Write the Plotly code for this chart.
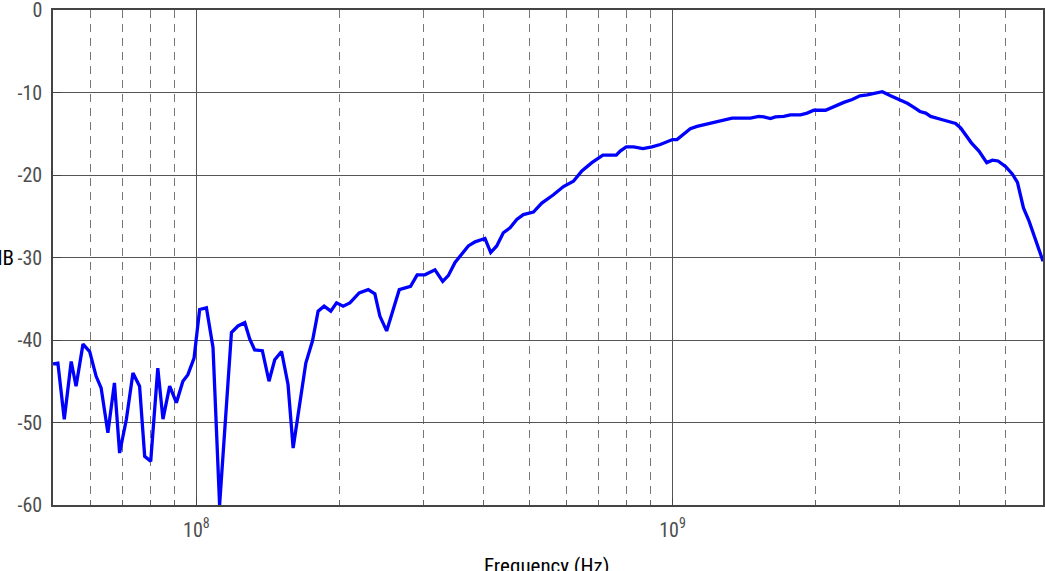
import plotly.graph_objects as go
import math

# Frequency response (frequency in MHz, level in dB)
freq_mhz = [50.0, 51.2, 52.8, 54.6, 55.9, 57.8, 59.7, 61.6, 63.1, 65.2,
            67.3, 69.0, 71.3, 73.6, 76.0, 77.9, 80.2, 83.0, 85.1, 87.9,
            90.8, 93.7, 96.0, 98.9, 101.6, 105.0, 108.4, 111.9, 118.5, 122.3,
            126.4, 129.5, 132.6, 137.6, 142.1, 146.1, 151.0, 155.8, 159.7, 169.8,
            175.4, 180.2, 185.5, 191.6, 197.0, 203.4, 210.1, 219.8, 229.6, 237.1,
            242.9, 251.0, 259.1, 266.8, 281.8, 290.9, 302.0, 317.1, 329.2, 338.2,
            349.4, 360.9, 372.6, 384.9, 403.9, 415.2, 427.4, 441.3, 455.9, 471.0,
            486.3, 510.4, 531.6, 562.3, 590.2, 619.4, 645.2, 677.2, 714.3, 761.8,
            776.7, 799.6, 828.4, 867.0, 905.6, 942.6, 1000, 1022, 1055, 1090,
            1126, 1182, 1261, 1334, 1458, 1518, 1555, 1606, 1645, 1713,
            1769, 1857, 1918, 1981, 2096, 2182, 2290, 2385, 2475, 2565,
            2648, 2758, 2871, 2989, 3113, 3214, 3309, 3402, 3485, 3688,
            3932, 4029, 4128, 4243, 4402, 4571, 4698, 4828, 5011, 5176,
            5303, 5370, 5459, 5609, 5746, 5888, 6000]
level_db = [-42.9, -42.8, -49.6, -42.6, -45.6, -40.5, -41.4, -44.4, -45.8, -51.25,
            -45.2, -53.7, -49.6, -44.0, -45.6, -54.1, -54.7, -43.4, -49.6, -45.6,
            -47.6, -45.0, -44.2, -42.2, -36.3, -36.1, -40.9, -60.0, -39.1, -38.3,
            -37.9, -39.9, -41.2, -41.3, -45.0, -42.4, -41.4, -45.4, -53.1, -42.8,
            -40.1, -36.5, -35.9, -36.5, -35.5, -35.9, -35.5, -34.3, -33.9, -34.4,
            -37.1, -38.9, -36.3, -33.9, -33.5, -32.1, -32.1, -31.5, -32.9, -32.2,
            -30.6, -29.6, -28.6, -28.1, -27.7, -29.4, -28.6, -27.0, -26.4, -25.4,
            -24.8, -24.5, -23.4, -22.4, -21.4, -20.75, -19.5, -18.5, -17.6, -17.6,
            -17.1, -16.6, -16.6, -16.8, -16.6, -16.3, -15.7, -15.7, -15.0, -14.4,
            -14.1, -13.8, -13.4, -13.1, -13.1, -12.9, -12.95, -13.15, -12.95, -12.9,
            -12.7, -12.7, -12.5, -12.15, -12.15, -11.7, -11.2, -10.85, -10.4, -10.3,
            -10.1, -9.9, -10.4, -10.85, -11.3, -11.8, -12.3, -12.5, -12.9, -13.3,
            -13.75, -14.3, -15.1, -16.1, -17.1, -18.5, -18.2, -18.3, -19.0, -19.9,
            -20.9, -22.2, -24.0, -25.6, -27.4, -29.0, -30.45]

freq_hz = [f * 1e6 for f in freq_mhz]

x_major = [1e8, 1e9]
x_major_text = ["10<sup>8</sup>", "10<sup>9</sup>"]
x_minor = [k * 10 ** e for e in (7, 8, 9) for k in range(2, 10) if 5e7 < k * 10 ** e < 6e9]
y_ticks = [0, -10, -20, -30, -40, -50, -60]
y_text = ["0", "-10", "-20", "-30", "-40", "-50", "-60"]

FONT = "Liberation Sans Narrow, Roboto Condensed, DejaVu Sans Condensed, Arial Narrow, sans-serif"

fig = go.Figure()
fig.add_trace(go.Scatter(x=freq_hz, y=level_db, mode="lines",
                         line=dict(color="#0000ff", width=3.3), showlegend=False))

fig.update_layout(
    width=1045, height=571,
    margin=dict(l=53, r=2, t=10, b=66, autoexpand=False),
    paper_bgcolor="white", plot_bgcolor="white",
    font=dict(family=FONT, size=20, color="#4d4d4d"),
)

fig.update_xaxes(
    type="log", range=[math.log10(5e7), math.log10(6e9)],
    tickvals=x_major, ticktext=x_major_text,
    ticks="inside", ticklen=7, tickcolor="#444",
    showgrid=True, gridcolor="#555", gridwidth=1,
    showline=True, linecolor="#444", linewidth=1.5, mirror=True,
    zeroline=False, automargin=False, ticklabeloverflow="allow",
    tickfont=dict(family=FONT, size=20, color="#4d4d4d"),
    ticklabelstandoff=6,
    minor=dict(tickvals=x_minor, ticks="inside", ticklen=5, tickcolor="#666",
               showgrid=True, gridcolor="#777", gridwidth=1, griddash="8px,6px"),
)
fig.update_yaxes(
    range=[-60, 0], tickvals=y_ticks, ticktext=y_text,
    ticks="inside", ticklen=8, tickcolor="#444",
    showgrid=True, gridcolor="#555", gridwidth=1,
    showline=True, linecolor="#444", linewidth=1.5, mirror=True,
    zeroline=False, automargin=False, ticklabeloverflow="allow",
    tickfont=dict(family=FONT, size=20, color="#4d4d4d"),
    ticklabelstandoff=5,
)

fig.add_annotation(text="dB", xref="paper", yref="y", x=(16 - 53) / 990, y=-30,
                   xanchor="right", yanchor="middle", showarrow=False,
                   font=dict(family=FONT, size=21, color="black"))
fig.add_annotation(text="Frequency (Hz)", xref="paper", yref="paper",
                   x=(546 - 53) / 990, y=-(552 - 505) / 495,
                   xanchor="center", yanchor="top", showarrow=False,
                   font=dict(family=FONT, size=21, color="black"))

fig.write_html(
    "out.html",
    config={"displayModeBar": False},
    post_script="document.body.style.margin='0';document.body.style.overflow='hidden';",
)
